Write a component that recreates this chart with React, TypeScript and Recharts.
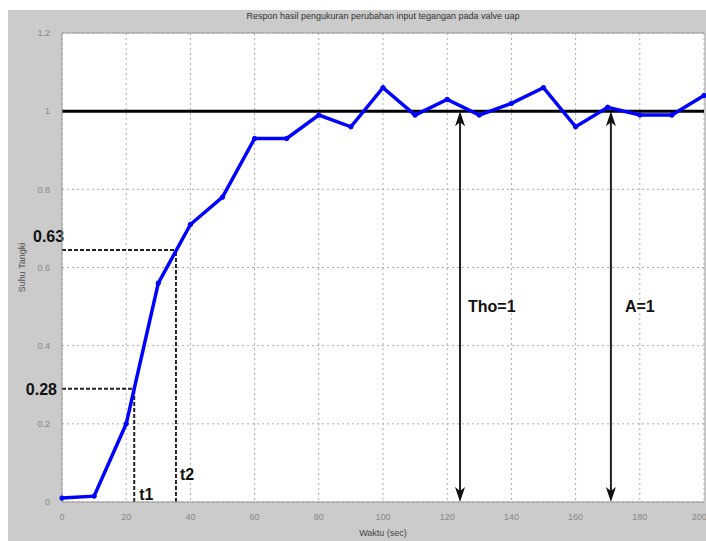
import React from "react";
import { LineChart, Line, XAxis, YAxis, CartesianGrid, ReferenceLine } from "recharts";

// Step response of the steam valve: temperature reading every 10 s.
const waktu = [0, 10, 20, 30, 40, 50, 60, 70, 80, 90, 100, 110, 120, 130, 140, 150, 160, 170, 180, 190, 200];
const suhu = [0.01, 0.015, 0.2, 0.56, 0.71, 0.78, 0.93, 0.93, 0.99, 0.96, 1.06, 0.99, 1.03, 0.99, 1.02, 1.06, 0.96, 1.01, 0.99, 0.99, 1.04];

const xTicks = [0, 20, 40, 60, 80, 100, 120, 140, 160, 180, 200];
const yTicks = [0, 0.2, 0.4, 0.6, 0.8, 1, 1.2];

// annotation points (line drawn slightly above the printed value)
const t1 = 22.5;
const t2 = 35.5;
const level28 = 0.29;
const level63 = 0.645;
const thoX = 124;
const aX = 171;

const data = waktu.map((t, i) => ({ t, v: suhu[i] }));

const BOLD = { fontFamily: "'Liberation Sans', Arial, sans-serif", fontWeight: 700, fill: "#111" };
const SMALL = { fontFamily: "'Liberation Sans', Arial, sans-serif", fontSize: 9, fill: "#888" };

function dashed(extra?: (p: any) => React.ReactNode) {
  return (p: any) => (
    <g>
      <line x1={p.x1} y1={p.y1} x2={p.x2} y2={p.y2} stroke="#222" strokeWidth={2} strokeDasharray="4 2" />
      {extra ? extra(p) : null}
    </g>
  );
}

function arrow(label: string, dx: number) {
  return (p: any) => {
    const x = p.x1;
    const top = Math.min(p.y1, p.y2);
    const bot = Math.max(p.y1, p.y2);
    return (
      <g>
        <line x1={x} y1={top + 8} x2={x} y2={bot - 8} stroke="#222" strokeWidth={2} />
        <polygon points={`${x},${top} ${x - 5},${top + 15} ${x},${top + 11} ${x + 5},${top + 15}`} fill="#111" />
        <polygon points={`${x},${bot} ${x - 5},${bot - 15} ${x},${bot - 11} ${x + 5},${bot - 15}`} fill="#111" />
        <text x={x + dx} y={top + 201} fontSize={16} {...BOLD}>
          {label}
        </text>
      </g>
    );
  };
}

export default function App() {
  return (
    <div style={{ position: "absolute", left: 0, top: 0, width: 706, height: 541, background: "#fff", overflow: "hidden" }}>
      <div style={{ position: "absolute", left: 8, top: 10, width: 698, height: 531, background: "#cbcbcb" }} />
      <div
        style={{
          position: "absolute",
          left: 62,
          width: 642,
          top: 11,
          textAlign: "center",
          fontFamily: "'Liberation Sans', Arial, sans-serif",
          fontSize: 9,
          color: "#333",
        }}
      >
        Respon hasil pengukuran perubahan input tegangan pada valve uap
      </div>
      <div style={{ position: "absolute", left: 0, top: 0 }}>
        <LineChart width={706} height={541} data={data} margin={{ top: 33, right: 2, bottom: 9, left: 8 }}>
          <CartesianGrid fill="#fff" fillOpacity={1} stroke="#aaa" strokeDasharray="2 3" />
          <XAxis
            dataKey="t"
            type="number"
            domain={[0, 200]}
            ticks={xTicks}
            height={30}
            tickLine={false}
            tickMargin={6}
            axisLine={{ stroke: "#999" }}
            tick={SMALL}
            label={{ value: "Waktu  (sec)", position: "insideBottom", offset: -4, style: { ...SMALL, fill: "#444" } }}
          />
          <YAxis
            type="number"
            domain={[0, 1.2]}
            ticks={yTicks}
            width={54}
            tickLine={false}
            tickMargin={6}
            axisLine={{ stroke: "#999" }}
            tick={SMALL}
            label={{ value: "Suhu Tangki", angle: -90, position: "insideLeft", offset: 14, style: { ...SMALL, fill: "#555", textAnchor: "middle" } }}
          />
          <ReferenceLine y={1.2} stroke="#999" />
          <ReferenceLine
            segment={[{ x: 0, y: level63 }, { x: t2, y: level63 }]}
            shape={dashed((p) => (
              <text x={p.x1 - 29} y={p.y1 - 8} fontSize={16} {...BOLD}>
                0.63
              </text>
            ))}
          />
          <ReferenceLine
            segment={[{ x: t2, y: 0 }, { x: t2, y: level63 }]}
            shape={dashed((p) => (
              <text x={p.x1 + 4} y={Math.max(p.y1, p.y2) - 22} fontSize={16} {...BOLD}>
                t2
              </text>
            ))}
          />
          <ReferenceLine
            segment={[{ x: 0, y: level28 }, { x: t1, y: level28 }]}
            shape={dashed((p) => (
              <text x={p.x1 - 5} y={p.y1 + 6} fontSize={16} textAnchor="end" {...BOLD}>
                0.28
              </text>
            ))}
          />
          <ReferenceLine
            segment={[{ x: t1, y: 0 }, { x: t1, y: level28 }]}
            shape={dashed((p) => (
              <text x={p.x1 + 5} y={Math.max(p.y1, p.y2) - 2} fontSize={16} {...BOLD}>
                t1
              </text>
            ))}
          />
          <ReferenceLine y={1} stroke="#000" strokeWidth={3} />
          <ReferenceLine segment={[{ x: thoX, y: 1 }, { x: thoX, y: 0 }]} shape={arrow("Tho=1", 8)} />
          <ReferenceLine segment={[{ x: aX, y: 1 }, { x: aX, y: 0 }]} shape={arrow("A=1", 14)} />
          <Line
            dataKey="v"
            stroke="#0000ff"
            strokeWidth={3.5}
            dot={{ r: 2.2, fill: "#0000ff", stroke: "#0000ff", strokeWidth: 1 }}
            isAnimationActive={false}
          />
        </LineChart>
      </div>
    </div>
  );
}
